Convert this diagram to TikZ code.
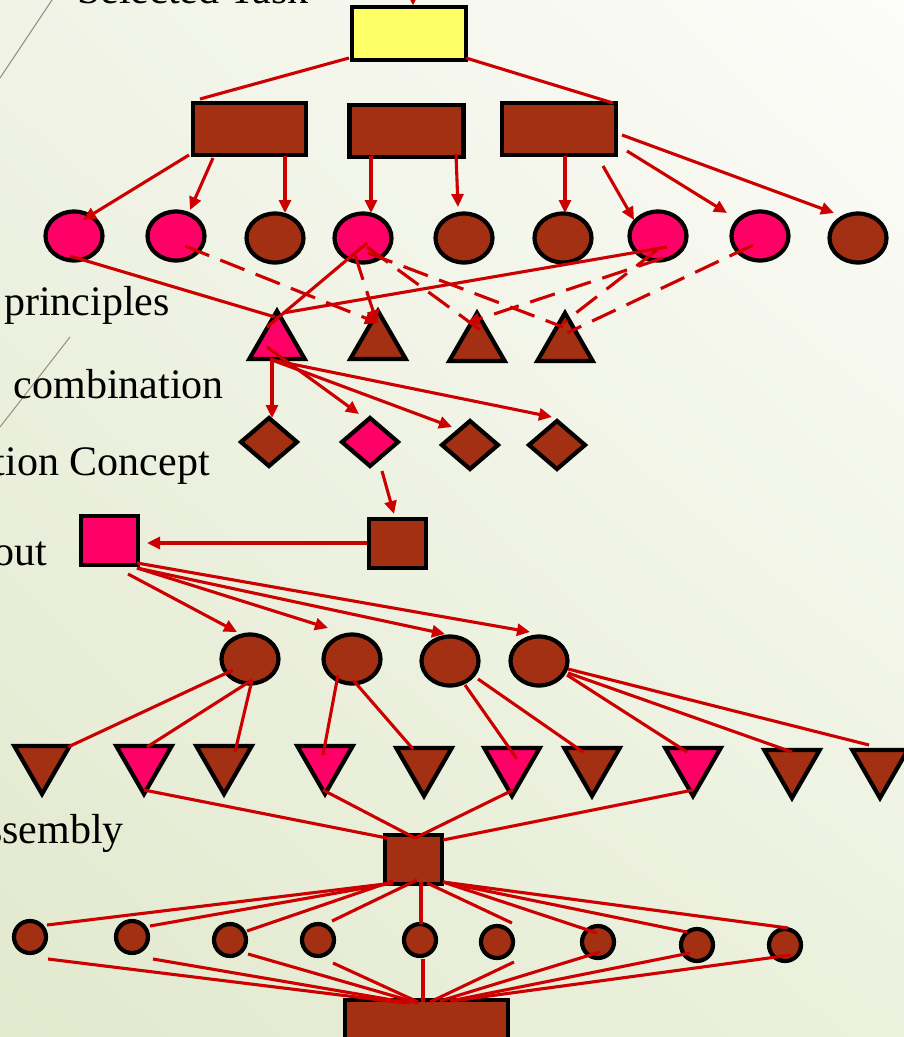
\documentclass[tikz,border=0pt]{standalone}
\usepackage{fontspec}
\setmainfont{Liberation Serif}
\usetikzlibrary{arrows.meta,shapes.geometric,shadings}
\definecolor{brick}{RGB}{163,48,18}
\definecolor{rose}{RGB}{255,0,102}
\definecolor{lemon}{RGB}{255,255,102}
\definecolor{wire}{RGB}{204,0,0}
\definecolor{rulecol}{RGB}{150,142,125}
\definecolor{bgUL}{RGB}{240,243,230}
\definecolor{bgUR}{RGB}{252,252,249}
\definecolor{bgLL}{RGB}{226,233,205}
\definecolor{bgLR}{RGB}{236,241,222}
\tikzset{
  shp/.style={draw=black, line width=4.2pt, inner sep=0pt, outer sep=0pt},
  blk/.style={shp, rectangle},
  oval/.style={shp, ellipse, minimum width=57pt, minimum height=49pt},
  dot/.style={shp, circle, minimum size=32pt},
  tri/.style={shp, regular polygon, regular polygon sides=3, minimum size=64pt},
  vtri/.style={tri, shape border rotate=180},
  gem/.style={shp, diamond, minimum width=56pt, minimum height=48pt},
  link/.style={draw=wire, line width=3.1pt},
  arr/.style={link, -{Triangle[length=13pt,width=12pt]}},
  dline/.style={link, dash pattern=on 26pt off 12pt},
  darr/.style={arr, dash pattern=on 26pt off 12pt},
  caption/.style={inner sep=0pt, font=\fontsize{42}{50}\selectfont}
}
\begin{document}
\begin{tikzpicture}[x=1pt,y=-1pt]
% page and background
\useasboundingbox (0,0) rectangle (904,1037);
\shade[upper left=bgUL, upper right=bgUR, lower left=bgLL, lower right=bgLR]
  (0,0) rectangle (904,1037);
\draw[rulecol, line width=1pt] (52,0) -- (0,78);
\draw[rulecol, line width=1pt] (70,337) -- (0,427);

% stage captions
\node[caption, anchor=base west] (tTask) at (77,3) {Selected Task};
\node[caption, anchor=base east] (tPrin) at (170,315) {principles};
\node[caption, anchor=base east] (tComb) at (224,398) {combination};
\node[caption, anchor=base east] (tConc) at (210,475) {tion Concept};
\node[caption, anchor=base east] (tLay)  at (47,565) {out};
\node[caption, anchor=base east] (tAsm)  at (124,843) {ssembly};

% task and sub-functions
\node[blk, fill=lemon, minimum width=114pt, minimum height=53pt] (Y) at (409,33.5) {};
\node[blk, fill=brick, minimum width=113pt, minimum height=52pt] (R1) at (249.5,129) {};
\node[blk, fill=brick, minimum width=114pt, minimum height=52pt] (R2) at (406.5,131) {};
\node[blk, fill=brick, minimum width=114pt, minimum height=52pt] (R3) at (559,129) {};

% working principles
\node[oval, fill=rose]  (C1) at (74,236) {};
\node[oval, fill=rose]  (C2) at (176,236) {};
\node[oval, fill=brick] (C3) at (275,238) {};
\node[oval, fill=rose]  (C4) at (363,238) {};
\node[oval, fill=brick] (C5) at (464,238) {};
\node[oval, fill=brick] (C6) at (563,238) {};
\node[oval, fill=rose]  (C7) at (658,236) {};
\node[oval, fill=rose]  (C8) at (760,236) {};
\node[oval, fill=brick] (C9) at (858,238) {};

% combinations
\node[tri, fill=rose]  (T1) at (277,343) {};
\node[tri, fill=brick] (T2) at (378,343) {};
\node[tri, fill=brick] (T3) at (477,345) {};
\node[tri, fill=brick] (T4) at (565,345) {};

% concepts
\node[gem, fill=brick] (D1) at (269,442) {};
\node[gem, fill=rose]  (D2) at (370,442) {};
\node[gem, fill=brick] (D3) at (470,445) {};
\node[gem, fill=brick] (D4) at (557,445) {};

% layouts
\node[blk, fill=brick, minimum width=57pt, minimum height=49pt] (S2) at (397.5,543.5) {};
\node[blk, fill=rose,  minimum width=57pt, minimum height=49pt] (S1) at (109.5,540.5) {};

% assemblies
\node[oval, fill=brick] (E1) at (250,659) {};
\node[oval, fill=brick] (E2) at (352,659) {};
\node[oval, fill=brick] (E3) at (450,661) {};
\node[oval, fill=brick] (E4) at (539,661) {};

\node[vtri, fill=brick] (V1)  at (42,762) {};
\node[vtri, fill=rose]  (V2)  at (144,762) {};
\node[vtri, fill=brick] (V3)  at (224,762) {};
\node[vtri, fill=rose]  (V4)  at (325,762) {};
\node[vtri, fill=brick] (V5)  at (424,764) {};
\node[vtri, fill=rose]  (V6)  at (512,764) {};
\node[vtri, fill=brick] (V7)  at (592,764) {};
\node[vtri, fill=rose]  (V8)  at (693,764) {};
\node[vtri, fill=brick] (V9)  at (792,766) {};
\node[vtri, fill=brick] (V10) at (880,766) {};

\node[blk, fill=brick, minimum width=57pt, minimum height=49pt] (A) at (413.5,859.5) {};

\node[dot, fill=brick] (F1) at (30,937) {};
\node[dot, fill=brick] (F2) at (132,937) {};
\node[dot, fill=brick] (F3) at (230,940) {};
\node[dot, fill=brick] (F4) at (318,940) {};
\node[dot, fill=brick] (F5) at (420,940) {};
\node[dot, fill=brick] (F6) at (497,942) {};
\node[dot, fill=brick] (F7) at (598,942) {};
\node[dot, fill=brick] (F8) at (697,945) {};
\node[dot, fill=brick] (F9) at (785,945) {};

\node[blk, fill=brick, minimum width=163pt, minimum height=50pt] (B) at (426.5,1025) {};

% ---- connectors ----
\coordinate (in) at (413,-20);
\draw[arr] (in) -- ([shift={(4,-28)}]Y.center);
\draw[link] ([shift={(-60,24.5)}]Y.center) -- ([shift={(-49.5,-30)}]R1.center);
\draw[link] ([shift={(57,24.5)}]Y.center) -- ([shift={(54,-26)}]R3.center);

\draw[arr] ([shift={(-60.5,26)}]R1.center) -- ([shift={(9,-16)}]C1.center);
\draw[arr] ([shift={(-36.5,29)}]R1.center) -- ([shift={(14,-26)}]C2.center);
\draw[arr] ([shift={(35.5,27)}]R1.center) -- ([shift={(10,-25)}]C3.center);
\draw[arr] ([shift={(-35.5,25)}]R2.center) -- ([shift={(8,-25)}]C4.center);
\draw[arr] ([shift={(49.5,23)}]R2.center) -- ([shift={(-6,-31)}]C5.center);
\draw[arr] ([shift={(6,27)}]R3.center) -- ([shift={(2,-25)}]C6.center);
\draw[arr] ([shift={(44,37)}]R3.center) -- ([shift={(-24,-16)}]C7.center);
\draw[arr] ([shift={(68,22)}]R3.center) -- ([shift={(-33,-23)}]C8.center);
\draw[arr] ([shift={(63,6)}]R3.center) -- ([shift={(-24,-25)}]C9.center);

\draw[link] ([shift={(-4,20)}]C1.center) -- ([shift={(-2,-26)}]T1.center);
\draw[link] ([shift={(4,5)}]C4.center) -- ([shift={(-10,-16)}]T1.center);
\draw[link] ([shift={(9,11)}]C7.center) -- ([shift={(6,-30)}]T1.center);
\draw[darr] ([shift={(9,10)}]C2.center) -- ([shift={(0,-20)}]T2.center);
\draw[darr] ([shift={(-8,17)}]C4.center) -- ([shift={(-1,-20)}]T2.center);
\draw[dline] ([shift={(4,9)}]C4.center) -- ([shift={(6,-13)}]T3.center);
\draw[dline] ([shift={(5,15)}]C4.center) -- ([shift={(-2,-18)}]T4.center);
\draw[darr] ([shift={(5,22)}]C7.center) -- ([shift={(-10,-22)}]T3.center);
\draw[dline] ([shift={(-1,14)}]C7.center) -- ([shift={(-2,-22)}]T4.center);
\draw[dline] ([shift={(-7,9)}]C8.center) -- ([shift={(2,-12)}]T4.center);

\draw[arr] ([shift={(-5,15)}]T1.center) -- ([shift={(3,-24)}]D1.center);
\draw[arr] ([shift={(-10,4)}]T1.center) -- ([shift={(-11,-28)}]D2.center);
\draw[arr] ([shift={(-5,17)}]T1.center) -- ([shift={(-18,-18)}]D3.center);
\draw[arr] ([shift={(-5,17)}]T1.center) -- ([shift={(-5,-28)}]D4.center);
\draw[arr] ([shift={(12,29)}]D2.center) -- ([shift={(-3.5,-29.5)}]S2.center);
\draw[arr] ([shift={(-30.5,-0.5)}]S2.center) -- ([shift={(37.5,2.5)}]S1.center);

\draw[arr] ([shift={(18.5,33.5)}]S1.center) -- ([shift={(-13,-27)}]E1.center);
\draw[arr] ([shift={(27.5,27.5)}]S1.center) -- ([shift={(-24,-31)}]E2.center);
\draw[arr] ([shift={(27.5,27.5)}]S1.center) -- ([shift={(-5,-27)}]E3.center);
\draw[arr] ([shift={(27.5,22.5)}]S1.center) -- ([shift={(-9,-29)}]E4.center);

\draw[link] ([shift={(-17,11)}]E1.center) -- ([shift={(26,-15)}]V1.center);
\draw[link] ([shift={(2,21)}]E1.center) -- ([shift={(3,-15)}]V2.center);
\draw[link] ([shift={(2,21)}]E1.center) -- ([shift={(11,-10)}]V3.center);
\draw[link] ([shift={(-14,16)}]E2.center) -- ([shift={(-2,-7)}]V4.center);
\draw[link] ([shift={(1,21)}]E2.center) -- ([shift={(-11,-15)}]V5.center);
\draw[link] ([shift={(15,24)}]E3.center) -- ([shift={(5,-5)}]V6.center);
\draw[link] ([shift={(28,18)}]E3.center) -- ([shift={(-9,-12)}]V7.center);
\draw[link] ([shift={(28,14)}]E4.center) -- ([shift={(-6,-12)}]V8.center);
\draw[link] ([shift={(29,12)}]E4.center) -- ([shift={(0,-14)}]V9.center);
\draw[link] ([shift={(29,8)}]E4.center) -- ([shift={(-11,-21)}]V10.center);

\draw[link] ([shift={(0,28)}]V2.center) -- ([shift={(-26.5,-21.5)}]A.center);
\draw[link] ([shift={(-2,28)}]V4.center) -- ([shift={(1.5,-21.5)}]A.center);
\draw[link] ([shift={(1,26)}]V6.center) -- ([shift={(1.5,-21.5)}]A.center);
\draw[link] ([shift={(0,26)}]V8.center) -- ([shift={(29.5,-19.5)}]A.center);

\draw[link] ([shift={(-20.5,23.5)}]A.center) -- ([shift={(17,-12)}]F1.center);
\draw[link] ([shift={(-20.5,23.5)}]A.center) -- ([shift={(18,-11)}]F2.center);
\draw[link] ([shift={(-20.5,21.5)}]A.center) -- ([shift={(17,-9)}]F3.center);
\draw[link] ([shift={(3.5,20.5)}]A.center) -- ([shift={(14,-19)}]F4.center);
\draw[link] ([shift={(7.5,22.5)}]A.center) -- ([shift={(1,-16)}]F5.center);
\draw[link] ([shift={(13.5,23.5)}]A.center) -- ([shift={(15,-19)}]F6.center);
\draw[link] ([shift={(29.5,22.5)}]A.center) -- ([shift={(-1,-9)}]F7.center);
\draw[link] ([shift={(29.5,22.5)}]A.center) -- ([shift={(-10,-13)}]F8.center);
\draw[link] ([shift={(29.5,22.5)}]A.center) -- ([shift={(3,-17)}]F9.center);

\draw[link] ([shift={(18,22)}]F1.center) -- ([shift={(-21.5,-22)}]B.center);
\draw[link] ([shift={(21,22)}]F2.center) -- ([shift={(-16.5,-22)}]B.center);
\draw[link] ([shift={(18,14)}]F3.center) -- ([shift={(-8.5,-22)}]B.center);
\draw[link] ([shift={(15,23)}]F4.center) -- ([shift={(-8.5,-23)}]B.center);
\draw[link] ([shift={(3,19)}]F5.center) -- ([shift={(-3.5,-23)}]B.center);
\draw[link] ([shift={(17,20)}]F6.center) -- ([shift={(3.5,-23)}]B.center);
\draw[link] ([shift={(2,10)}]F7.center) -- ([shift={(13.5,-24)}]B.center);
\draw[link] ([shift={(-7,8)}]F8.center) -- ([shift={(23.5,-24)}]B.center);
\draw[link] ([shift={(6,10)}]F9.center) -- ([shift={(25.5,-24)}]B.center);
\end{tikzpicture}
\end{document}
